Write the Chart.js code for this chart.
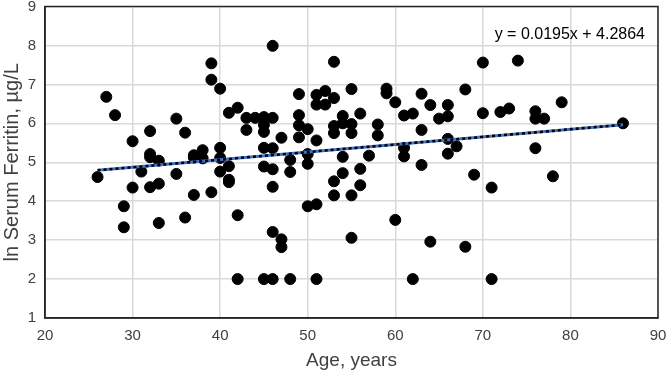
<!DOCTYPE html>
<html>
<head>
<meta charset="utf-8">
<script src="https://cdn.jsdelivr.net/npm/chart.js@4"></script>
<style>
  html, body { margin: 0; padding: 0; background: #fff; }
  #wrap { width: 667px; height: 372px; }
</style>
</head>
<body>
<div id="wrap"><canvas id="myChart"></canvas></div>
<script>
// ages and ln ferritin values
const ages = [
  26, 27, 28, 29, 29, 30, 30, 31, 32, 32, 32, 32, 33, 33, 33,
  35, 35, 36, 36, 37, 37, 37, 38, 38, 39, 39, 39,
  40, 40, 40, 40, 41, 41, 41, 41, 42, 42, 42, 43, 43, 44,
  45, 45, 45, 45, 45, 45, 46, 46, 46, 46, 46, 46, 46,
  47, 47, 47, 48, 48, 48, 49, 49, 49, 49,
  50, 50, 50, 50, 51, 51, 51, 51, 51, 52, 52,
  53, 53, 53, 53, 53, 53, 54, 54, 54, 54,
  55, 55, 55, 55, 55, 56, 56, 56, 57, 58, 58, 59, 59,
  60, 60, 61, 61, 61, 62, 62, 63, 63, 63, 64, 64, 65,
  66, 66, 66, 66, 67, 68, 68, 69, 70, 70, 71, 71, 72, 73, 74,
  76, 76, 76, 77, 78, 79, 86
];
const ferritin = [
  4.62, 6.68, 6.21, 3.87, 3.33, 5.54, 4.35, 4.76, 5.80, 5.21, 5.13, 4.36, 5.04, 4.45, 3.44,
  6.12, 4.70, 5.76, 3.58, 5.18, 5.12, 4.16, 5.31, 5.10, 7.54, 7.12, 4.23,
  6.89, 5.37, 5.11, 4.76, 6.27, 4.90, 4.55, 4.49, 6.40, 3.64, 2.00, 6.14, 5.83, 6.14,
  6.16, 5.96, 5.78, 5.37, 4.89, 2.00, 7.99, 6.14, 5.36, 4.82, 4.37, 3.21, 2.00,
  5.63, 3.02, 2.82, 5.06, 4.75, 2.00, 6.75, 6.21, 5.95, 5.64,
  5.85, 5.21, 4.96, 3.87, 6.73, 6.48, 5.56, 3.92, 2.00, 6.83, 6.48,
  7.58, 6.65, 5.93, 5.75, 4.51, 4.15, 6.19, 6.00, 5.14, 4.72,
  6.88, 5.98, 5.75, 4.15, 3.06, 6.25, 4.83, 4.41, 5.17, 5.97, 5.69, 6.89, 6.77,
  6.54, 3.52, 6.20, 5.37, 5.15, 6.25, 2.00, 6.76, 5.83, 4.93, 6.47, 2.96, 6.12,
  6.47, 6.18, 5.60, 5.22, 5.41, 6.87, 2.83, 4.68, 7.56, 6.26, 4.35, 2.00, 6.29, 6.38, 7.61,
  6.31, 6.12, 5.36, 6.12, 4.64, 6.54, 6.00
];

// trendline as printed on the chart
const slope = 0.0195;
const intercept = 4.2864;
const trendLabel = 'y = 0.0195x + 4.2864';

const xTicks = [20, 30, 40, 50, 60, 70, 80, 90];
const yTicks = [1, 2, 3, 4, 5, 6, 7, 8, 9];

const points = ages.map((a, i) => ({ x: a, y: ferritin[i] }));
const minAge = Math.min(...ages);
const maxAge = Math.max(...ages);
const trend = [
  { x: minAge, y: slope * minAge + intercept },
  { x: maxAge, y: slope * maxAge + intercept }
];

const FONT = '"Liberation Sans", Arial, sans-serif';

// frame round the plot area + equation text
const framePlugin = {
  id: 'frame',
  afterDraw(chart) {
    const { ctx, chartArea: a } = chart;
    ctx.save();
    ctx.strokeStyle = '#262626';
    ctx.lineWidth = 1.5;
    ctx.strokeRect(a.left, a.top, a.right - a.left, a.bottom - a.top);
    ctx.fillStyle = '#000';
    ctx.font = '16px ' + FONT;
    ctx.textAlign = 'right';
    ctx.textBaseline = 'middle';
    ctx.fillText(trendLabel, a.right - 13, a.top + 28);
    ctx.restore();
  }
};

const ctx = document.getElementById('myChart');

new Chart(ctx, {
  type: 'scatter',
  data: {
    datasets: [
      {
        label: 'trend dots',
        data: trend,
        type: 'line',
        showLine: true,
        borderColor: '#000',
        borderWidth: 2.5,
        borderDash: [3, 3],
        pointRadius: 0,
        order: 0
      },
      {
        label: 'trend',
        data: trend,
        type: 'line',
        showLine: true,
        borderColor: '#4472C4',
        borderWidth: 3,
        pointRadius: 0,
        order: 1
      },
      {
        label: 'ln Serum Ferritin',
        data: points,
        backgroundColor: '#000',
        borderColor: '#000',
        pointRadius: 5.5,
        pointHoverRadius: 5.5,
        order: 2
      }
    ]
  },
  options: {
    responsive: true,
    maintainAspectRatio: false,
    animation: false,
    layout: { padding: { top: 6, right: 9, left: 0, bottom: 0 } },
    plugins: {
      legend: { display: false },
      tooltip: { enabled: false }
    },
    scales: {
      x: {
        type: 'linear',
        min: 20,
        max: 90,
        afterBuildTicks: (s) => { s.ticks = xTicks.map(v => ({ value: v })); },
        afterFit: (s) => { s.height = 54; s.paddingLeft = 0; s.paddingRight = 0; },
        grid: { color: '#d9d9d9', lineWidth: 1.5, drawTicks: false },
        border: { color: '#262626', width: 1.5 },
        ticks: { color: '#404040', font: { family: FONT, size: 15 }, padding: 9 },
        title: {
          display: true,
          text: 'Age, years',
          color: '#404040',
          font: { family: FONT, size: 19 },
          padding: { top: 0, bottom: 0 }
        }
      },
      y: {
        type: 'linear',
        min: 1,
        max: 9,
        afterBuildTicks: (s) => { s.ticks = yTicks.map(v => ({ value: v })); },
        afterFit: (s) => { s.width = 45; s.paddingTop = 0; s.paddingBottom = 0; },
        grid: { color: '#d9d9d9', lineWidth: 1.5, drawTicks: false },
        border: { color: '#262626', width: 1.5 },
        ticks: { color: '#404040', font: { family: FONT, size: 15 }, padding: 9 },
        title: {
          display: true,
          text: 'ln Serum Ferritin, µg/L',
          color: '#404040',
          font: { family: FONT, size: 20 },
          padding: { top: 0, bottom: 0 }
        }
      }
    }
  },
  plugins: [framePlugin]
});
</script>
</body>
</html>
